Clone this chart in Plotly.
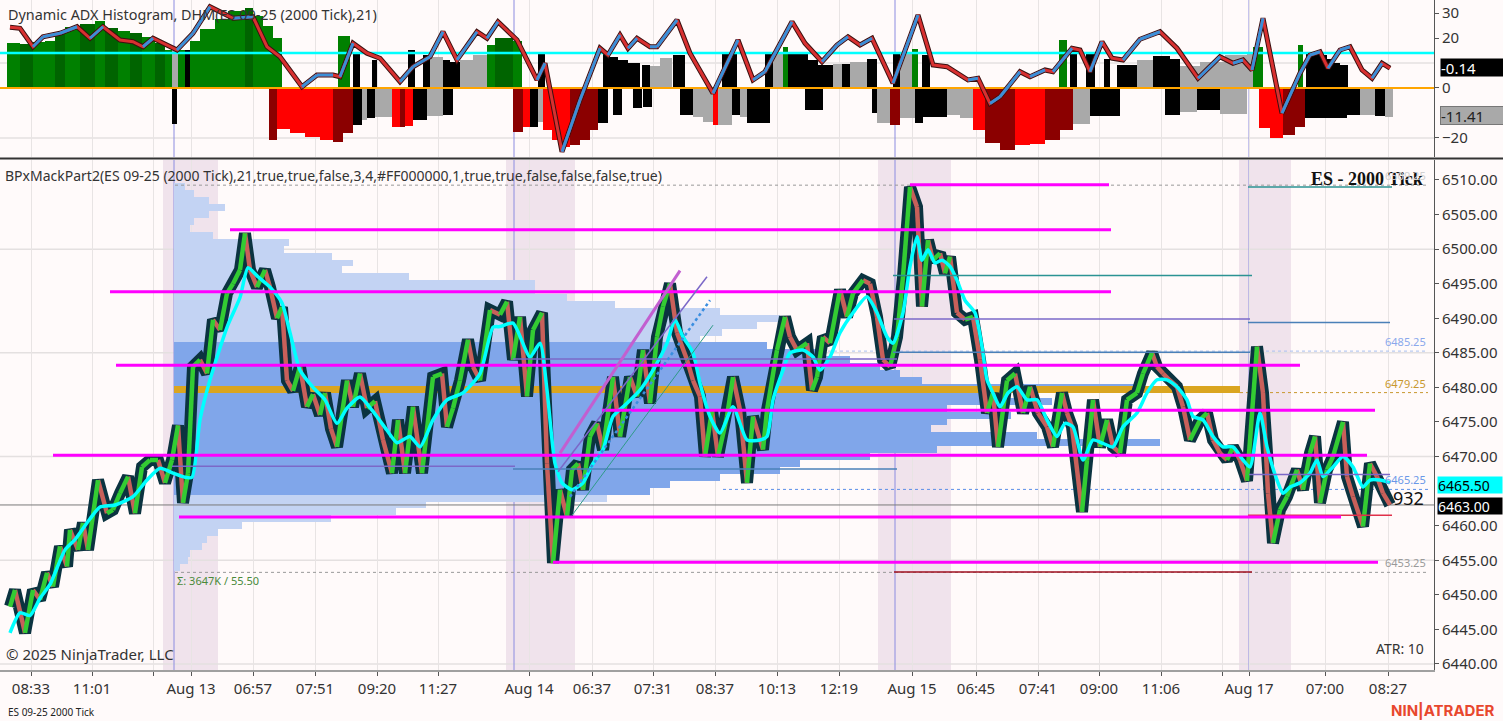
import plotly.graph_objects as go

# ---------------- price pane (x = bar index on the tick chart) ----------------
price_x = [10, 15, 25, 33, 40, 47, 53, 60, 67, 70, 78, 83, 88, 98, 107, 113, 120, 128, 135, 142,
           150, 158, 165, 172, 178, 183, 188, 193, 200, 207, 213, 220, 227, 233, 240, 245, 250, 257,
           265, 270, 277, 282, 287, 293, 300, 307, 313, 320, 325, 331, 337, 347, 353, 360, 367, 375,
           383, 392, 398, 405, 413, 422, 433, 442, 447, 453, 460, 468, 473, 480, 490, 500, 507, 513,
           520, 527, 533, 542, 547, 553, 560, 567, 572, 578, 583, 590, 597, 603, 613, 620, 630, 637,
           643, 650, 657, 663, 670, 677, 687, 693, 700, 705, 712, 718, 727, 733, 740, 747, 753, 763,
           767, 777, 785, 790, 797, 807, 812, 817, 823, 830, 840, 847, 853, 863, 870, 877, 883, 890,
           897, 903, 910, 917, 922, 928, 933, 940, 945, 950, 957, 965, 973, 980, 987, 993, 998, 1007,
           1015, 1023, 1030, 1038, 1047, 1053, 1062, 1067, 1072, 1082, 1087, 1093, 1100, 1107, 1113,
           1120, 1127, 1137, 1143, 1152, 1157, 1163, 1170, 1177, 1183, 1190, 1200, 1207, 1213, 1220,
           1227, 1233, 1240, 1247, 1257, 1263, 1268, 1273, 1280, 1287, 1297, 1303, 1310, 1315, 1320,
           1327, 1333, 1343, 1347, 1353, 1363, 1370, 1377, 1383, 1390]
price_close = [6448.3, 6450.7, 6444.5, 6450.7, 6449.3, 6453.2, 6451.2, 6457.0, 6454.1, 6459.4, 6456.5,
               6460.4, 6456.5, 6466.6, 6461.8, 6462.3, 6464.7, 6467.1, 6461.8, 6468.5, 6469.5, 6469.5,
               6466.2, 6469.5, 6474.5, 6463.3, 6467.6, 6483.0, 6484.0, 6482.0, 6489.8, 6488.3, 6493.6,
               6495.0, 6497.0, 6502.3, 6497.0, 6494.5, 6497.0, 6494.5, 6490.0, 6491.6, 6481.0, 6479.5,
               6483.0, 6477.2, 6479.0, 6476.0, 6479.2, 6474.0, 6471.4, 6481.0, 6477.2, 6482.0, 6477.0,
               6478.0, 6472.4, 6467.6, 6475.3, 6467.6, 6477.2, 6467.6, 6481.5, 6482.0, 6474.3, 6477.0,
               6481.0, 6486.9, 6483.0, 6481.0, 6491.2, 6490.5, 6492.4, 6484.0, 6490.2, 6478.7, 6488.3,
               6490.8, 6469.0, 6454.6, 6465.2, 6461.3, 6468.1, 6469.0, 6465.2, 6472.9, 6474.8, 6471.0,
               6481.5, 6472.9, 6481.5, 6478.7, 6485.4, 6477.7, 6487.3, 6491.7, 6495.0, 6487.9, 6484.0,
               6481.0, 6478.7, 6470.0, 6476.7, 6470.0, 6475.8, 6481.5, 6476.7, 6466.2, 6475.8, 6471.0,
               6476.7, 6485.4, 6490.2, 6487.3, 6485.4, 6486.4, 6479.6, 6481.5, 6487.3, 6486.4, 6494.1,
               6490.2, 6493.6, 6495.5, 6495.0, 6490.2, 6484.0, 6483.0, 6487.3, 6496.0, 6509.0, 6506.1,
               6491.7, 6501.3, 6498.4, 6499.4, 6496.5, 6498.9, 6490.8, 6489.8, 6490.2, 6484.0, 6476.3,
               6479.2, 6471.4, 6481.0, 6482.0, 6476.3, 6480.1, 6476.3, 6474.3, 6471.4, 6479.2, 6476.3,
               6474.3, 6462.0, 6469.5, 6478.2, 6471.4, 6475.3, 6471.4, 6470.5, 6478.2, 6479.2, 6482.0,
               6485.0, 6483.0, 6482.0, 6481.0, 6480.1, 6477.2, 6472.4, 6475.3, 6476.3, 6472.4, 6470.5,
               6469.5, 6471.4, 6469.5, 6466.5, 6485.9, 6479.2, 6464.7, 6457.5, 6462.3, 6464.2, 6468.1,
               6465.2, 6470.5, 6472.9, 6463.3, 6468.1, 6470.0, 6475.0, 6467.1, 6464.2, 6459.9, 6469.0,
               6467.1, 6464.7, 6463.0]

ma_x = [10, 20, 30, 40, 50, 65, 75, 90, 100, 115, 133, 147, 160, 173, 185, 192, 200, 210, 227, 240,
        248, 258, 270, 282, 290, 300, 313, 325, 337, 347, 360, 372, 387, 397, 410, 420, 433, 447, 463,
        480, 493, 500, 513, 530, 540, 547, 555, 562, 572, 583, 593, 603, 613, 627, 640, 653, 667, 675,
        683, 693, 700, 710, 720, 733, 747, 760, 767, 773, 783, 790, 803, 813, 820, 830, 840, 853, 867,
        877, 887, 893, 903, 910, 917, 922, 928, 935, 942, 950, 957, 965, 975, 982, 987, 993, 1000,
        1008, 1017, 1027, 1037, 1047, 1057, 1065, 1073, 1083, 1093, 1103, 1113, 1123, 1137, 1147,
        1157, 1167, 1177, 1187, 1193, 1203, 1213, 1223, 1233, 1243, 1250, 1260, 1267, 1277, 1283,
        1290, 1300, 1310, 1317, 1323, 1333, 1343, 1353, 1363, 1370, 1380, 1390]
ma_val = [6444.5, 6447.4, 6447.0, 6449.5, 6451.5, 6456.5, 6458.0, 6461.0, 6462.7, 6463.0, 6464.2,
          6466.6, 6468.3, 6467.6, 6467.0, 6467.0, 6475.3, 6481.1, 6488.7, 6493.0, 6497.3, 6496.0,
          6494.5, 6492.2, 6487.9, 6482.5, 6480.0, 6478.2, 6474.8, 6477.0, 6478.6, 6476.7, 6473.8,
          6472.0, 6472.9, 6471.4, 6475.3, 6478.2, 6479.2, 6482.0, 6488.7, 6488.8, 6489.3, 6484.4,
          6486.4, 6479.6, 6469.0, 6466.2, 6465.2, 6466.2, 6469.0, 6471.0, 6475.8, 6477.7, 6479.6,
          6482.5, 6486.4, 6489.8, 6487.3, 6485.0, 6480.6, 6475.8, 6473.4, 6477.2, 6472.4, 6472.4,
          6472.9, 6478.2, 6482.5, 6485.0, 6485.4, 6484.4, 6482.5, 6484.4, 6487.9, 6490.8, 6493.1,
          6490.8, 6487.3, 6486.4, 6490.8, 6497.5, 6501.8, 6498.4, 6499.9, 6498.0, 6498.4, 6497.5,
          6495.5, 6492.6, 6490.8, 6485.9, 6481.1, 6479.2, 6477.2, 6479.2, 6480.1, 6478.2, 6478.2,
          6475.3, 6472.9, 6474.8, 6474.3, 6469.5, 6472.4, 6471.9, 6471.4, 6474.3, 6476.3, 6479.2,
          6481.1, 6481.1, 6480.1, 6478.2, 6475.8, 6475.3, 6472.9, 6471.4, 6471.4, 6469.5, 6468.5,
          6476.3, 6471.4, 6466.6, 6464.7, 6465.6, 6466.2, 6467.6, 6469.5, 6467.1, 6468.5, 6470.0,
          6468.5, 6465.6, 6466.6, 6466.6, 6466.2]

# volume profile of the Aug 13 - Aug 17 range
profile_start = 174
profile_price = list(range(6454, 6510))
profile_right = [180, 188, 190, 202, 207, 218, 242, 331, 396, 426, 607, 650, 670, 720, 780, 800, 870,
                 937, 1160, 1037, 931, 947, 1011, 947, 1052, 1000, 1138, 922, 900, 880, 850, 820, 767,
                 700, 722, 757, 780, 720, 615, 567, 535, 535, 409, 342, 353, 332, 284, 289, 213, 190,
                 194, 209, 225, 209, 194, 185]
value_area = (6465, 6486)
poc_price = 6479.75
poc_right = 1240

# drawn levels
mag_price = [6509.3, 6502.8, 6493.85, 6483.2, 6476.7, 6470.2, 6461.25, 6454.7]
mag_x0 = [910, 230, 110, 116, 602, 53, 179, 553]
mag_x1 = [1109, 1111, 1111, 1300, 1375, 1367, 1341, 1378]

thin_price = [6496.2, 6509.0, 6489.9, 6489.4, 6485.1, 6484.1, 6468.6, 6468.2, 6467.4, 6461.5, 6453.3]
thin_x0 = [893, 1248, 894, 1248, 893, 513, 172, 513, 1249, 1248, 894]
thin_x1 = [1252, 1392, 1250, 1390, 1250, 897, 515, 897, 1390, 1392, 1252]
thin_kind = ['teal', 'teal', 'purple', 'steel', 'steel', 'purple', 'purple', 'steel', 'purple',
             'crimson', 'darkred']

ref_price = [6509.25, 6485.25, 6479.25, 6465.25, 6453.25]
ref_x0 = [175, 810, 1240, 723, 175]
ref_kind = ['gray', 'vah', 'poc', 'val', 'gray']
last_price = 6463.00
last_ma = 6465.50

trend_x0 = [560, 558, 570, 572]
trend_y0 = [6470.5, 6467.8, 6464.2, 6461.5]
trend_x1 = [680, 707, 710, 713]
trend_y1 = [6496.9, 6496.0, 6492.6, 6489.0]

sess_x0 = [163, 506, 878, 1239]
sess_x1 = [218, 575, 951, 1291]
sess_line = [174, 514, 895, 1249]

tick_pos = [31, 92, 153, 191, 253, 315, 377, 438, 529, 592, 653, 715, 777, 839, 912, 976, 1038, 1099,
            1161, 1222, 1249, 1325, 1388]
tick_text = ['08:33', '11:01', '', 'Aug 13', '06:57', '07:51', '09:20', '11:27', 'Aug 14', '06:37',
             '07:31', '08:37', '10:13', '12:19', 'Aug 15', '06:45', '07:41', '09:00', '11:06', '',
             'Aug 17', '07:00', '08:27']
# price labels on the right scale (6465.00 sits under the last-price tags)
price_ticks = [6440, 6445, 6450, 6455, 6460, 6470, 6475, 6480, 6485, 6490, 6495, 6500, 6505, 6510]

# ---------------- ADX histogram pane ----------------
adx_x = [10, 20, 33, 43, 60, 77, 90, 103, 120, 133, 143, 153, 177, 193, 210, 233, 253, 267, 280, 302,
         317, 333, 340, 353, 367, 380, 400, 413, 430, 443, 457, 477, 487, 498, 517, 537, 545, 562, 580,
         600, 608, 620, 628, 637, 650, 657, 677, 690, 713, 738, 753, 765, 792, 805, 822, 837, 848, 860,
         872, 893, 918, 933, 947, 968, 978, 990, 1000, 1020, 1030, 1045, 1053, 1072, 1080, 1090, 1102,
         1112, 1123, 1140, 1160, 1177, 1198, 1220, 1233, 1243, 1252, 1263, 1282, 1300, 1310, 1320,
         1328, 1340, 1350, 1362, 1372, 1382, 1390]
adx_val = [24.3, 23.9, 16.5, 20.5, 21.9, 24.5, 19.9, 24.5, 19.2, 18.5, 16.5, 19.9, 15.2, 21.9, 32.5,
           27.9, 28.5, 16.5, 12.5, 0.5, 5.2, 5.2, 4.5, 17.9, 13.9, 11.9, 2.5, 8.5, 12.5, 22.5, 11.2,
           22.5, 19.9, 26.5, 19.2, 3.2, 9.9, -25.5, -4.8, 15.9, 13.2, 21.2, 15.9, 19.9, 16.5, 16.5,
           27.2, 13.9, -2.1, 19.2, 3.2, 6.5, 26.5, 17.9, 10.5, 17.2, 20.5, 17.2, 19.9, 1.9, 29.2, 9.2,
           8.5, 3.2, 3.9, -6.2, -3.5, 6.5, 4.5, 7.2, 6.5, 15.9, 15.2, 6.5, 18.5, 11.9, 11.2, 19.5,
           22.5, 15.9, 3.9, 12.5, 9.9, 11.2, 7.2, 27.9, -10.1, 5.9, 13.2, 14.5, 7.9, 15.2, 16.5, 7.2,
           3.9, 9.9, 7.9]
adx_threshold = 14

pos_start = [7, 20, 33, 45, 55, 65, 80, 95, 105, 118, 130, 142, 155, 165, 172, 178, 185, 190, 200,
             215, 228, 245, 253, 263, 273, 338, 353, 372, 408, 423, 430, 443, 450, 460, 473, 487, 495,
             513, 538, 603, 610, 618, 628, 642, 650, 660, 673, 722, 728, 765, 773, 783, 788, 808, 818,
             833, 842, 850, 867, 893, 900, 912, 922, 1059, 1070, 1086, 1104, 1117, 1137, 1153, 1170,
             1180, 1200, 1225, 1247, 1253, 1298, 1306, 1315, 1327, 1333, 1340]
pos_end = [20, 33, 45, 55, 65, 80, 95, 105, 118, 130, 142, 155, 165, 172, 178, 185, 190, 200, 215,
           228, 245, 253, 263, 273, 282, 350, 360, 377, 415, 430, 443, 450, 460, 473, 487, 495, 513,
           522, 545, 610, 618, 628, 640, 650, 660, 672, 685, 728, 737, 773, 783, 788, 808, 818, 833,
           842, 850, 867, 877, 900, 912, 918, 930, 1067, 1077, 1095, 1110, 1137, 1153, 1170, 1180,
           1200, 1225, 1247, 1253, 1263, 1303, 1315, 1327, 1333, 1340, 1348]
pos_val = [18, 17.5, 18.5, 19, 22, 24.4, 25.5, 27, 24, 23, 22, 20.5, 18, 15, 15, 15, 15, 19, 23.5,
           27.5, 31, 32, 29, 25, 20, 21, 14, 11, 15, 13, 12.4, 11, 10.4, 11.2, 13.2, 17, 20, 19, 13.6,
           14, 12.4, 11, 10, 9, 8.6, 12, 13, 14.4, 14, 13.6, 14, 16.3, 14, 11, 9, 9.6, 9.6, 10.4, 11.5,
           14.4, 14, 15.6, 13, 19.2, 13.6, 13.6, 11.6, 9.2, 11.2, 12.8, 11.5, 8.6, 10.4, 13, 14, 16.3,
           17.2, 14.4, 13, 11.5, 10, 9.2]
pos_state = ['G', 'DG', 'G', 'G', 'DG', 'G', 'DG', 'G', 'DG', 'G', 'DG', 'G', 'DG', 'G', 'S', 'G', 'K',
             'G', 'G', 'G', 'G', 'DG', 'G', 'G', 'G', 'G', 'K', 'K', 'K', 'K', 'S', 'K', 'K', 'S', 'S',
             'G', 'DG', 'G', 'K', 'K', 'K', 'K', 'K', 'K', 'S', 'S', 'K', 'K', 'K', 'K', 'S', 'G', 'K',
             'K', 'K', 'S', 'K', 'S', 'K', 'K', 'S', 'G', 'K', 'G', 'K', 'K', 'K', 'K', 'S', 'K', 'K',
             'S', 'S', 'S', 'S', 'G', 'G', 'K', 'K', 'K', 'K', 'K']

neg_start = [172, 269, 277, 290, 305, 320, 333, 343, 353, 362, 367, 375, 392, 400, 405, 413, 427, 443,
             513, 523, 530, 538, 543, 552, 562, 570, 580, 590, 598, 613, 633, 643, 680, 693, 703, 713,
             718, 732, 740, 747, 805, 872, 877, 890, 900, 915, 923, 947, 960, 973, 985, 1000, 1015,
             1030, 1045, 1060, 1073, 1090, 1165, 1180, 1197, 1220, 1259, 1270, 1283, 1295, 1305, 1347,
             1360, 1375, 1385]
neg_end = [177, 277, 290, 305, 320, 333, 343, 353, 362, 367, 375, 392, 400, 405, 413, 427, 443, 453,
           523, 530, 538, 543, 552, 562, 570, 580, 590, 598, 608, 622, 642, 652, 693, 703, 713, 718,
           732, 740, 747, 770, 823, 877, 890, 900, 915, 923, 947, 960, 973, 985, 1000, 1015, 1030,
           1045, 1060, 1073, 1090, 1120, 1180, 1197, 1220, 1247, 1270, 1283, 1295, 1305, 1347, 1360,
           1375, 1385, 1393]
neg_val = [-14.4, -20.8, -16.5, -18, -19.6, -21, -21.6, -18, -14.8, -13, -12, -11.5, -15.6, -15.6,
           -15.2, -12.8, -11.2, -10.8, -17.6, -15.6, -15.6, -13.6, -17, -21, -23.6, -23, -21, -17, -14,
           -10.8, -8, -7.6, -10.8, -11.5, -13.5, -14.8, -14.8, -11, -11.5, -14, -8.8, -10, -14, -14.8,
           -12, -14, -11.6, -11, -12, -17, -22, -24.8, -23, -22.4, -21, -17, -14.6, -11.4, -10.8,
           -9.6, -8.8, -10.4, -16, -20, -19, -15.6, -12, -11, -11, -11.2, -11.41]
neg_state = ['K', 'DR', 'R', 'R', 'R', 'R', 'DR', 'DR', 'K', 'S', 'K', 'S', 'R', 'DR', 'R', 'K', 'S',
             'K', 'DR', 'R', 'K', 'S', 'R', 'R', 'R', 'DR', 'DR', 'DR', 'K', 'K', 'K', 'K', 'K', 'S',
             'S', 'R', 'S', 'K', 'S', 'K', 'K', 'K', 'S', 'DR', 'S', 'K', 'K', 'S', 'S', 'R', 'DR',
             'DR', 'R', 'R', 'DR', 'DR', 'S', 'K', 'K', 'S', 'K', 'S', 'R', 'R', 'DR', 'DR', 'K', 'K',
             'S', 'K', 'S']

state_colors = {'G': '#008000', 'DG': '#006400', 'R': '#ff0000', 'DR': '#8b0000',
                'K': '#000000', 'S': '#a9a9a9'}
thin_colors = {'teal': '#2b9393', 'purple': '#7b68c8', 'steel': '#4a80b8',
               'crimson': '#e0304a', 'darkred': '#a01020'}
ref_colors = {'gray': '#9a9a9a', 'vah': '#a8c0f0', 'poc': '#c8982e', 'val': '#5b8fe8'}

FONT = 'Noto Sans'
BG = '#fffafa'
X_END = 1434


def split_up_down(xs, ys):
    up_x, up_y, dn_x, dn_y = [], [], [], []
    for i in range(len(xs) - 1):
        if ys[i + 1] >= ys[i]:
            up_x += [xs[i], xs[i + 1], None]
            up_y += [ys[i], ys[i + 1], None]
        else:
            dn_x += [xs[i], xs[i + 1], None]
            dn_y += [ys[i], ys[i + 1], None]
    return up_x, up_y, dn_x, dn_y


def hlines(prices, x0s, x1s):
    xs, ys = [], []
    for p, a, b in zip(prices, x0s, x1s):
        xs += [a, b, None]
        ys += [p, p, None]
    return xs, ys


fig = go.Figure()

# --- top pane: histogram ---
fig.add_trace(go.Bar(
    x=[(a + b) / 2 for a, b in zip(pos_start, pos_end)], width=[b - a for a, b in zip(pos_start, pos_end)],
    y=pos_val, marker=dict(color=[state_colors[s] for s in pos_state], line=dict(width=0)),
    yaxis='y', hoverinfo='skip'))
fig.add_trace(go.Bar(
    x=[(a + b) / 2 for a, b in zip(neg_start, neg_end)], width=[b - a for a, b in zip(neg_start, neg_end)],
    y=neg_val, marker=dict(color=[state_colors[s] for s in neg_state], line=dict(width=0)),
    yaxis='y', hoverinfo='skip'))
fig.add_trace(go.Scatter(x=[0, X_END], y=[adx_threshold] * 2, mode='lines', yaxis='y',
                         line=dict(color='#00ffff', width=2.5), hoverinfo='skip'))
fig.add_trace(go.Scatter(x=[0, X_END], y=[0, 0], mode='lines', yaxis='y',
                         line=dict(color='#ffa500', width=2), hoverinfo='skip'))
fig.add_trace(go.Scatter(x=adx_x, y=adx_val, mode='lines', yaxis='y',
                         line=dict(color='#3a1010', width=5), hoverinfo='skip'))
fig.add_trace(go.Scatter(x=adx_x, y=adx_val, mode='lines', yaxis='y',
                         line=dict(color='#d83030', width=3), hoverinfo='skip'))
ux, uy, dx, dy = split_up_down(adx_x, adx_val)
fig.add_trace(go.Scatter(x=ux, y=uy, mode='lines', yaxis='y',
                         line=dict(color='#3a8fd8', width=3), hoverinfo='skip'))

# --- bottom pane: volume profile ---
prof_colors = ['#80a6ea' if value_area[0] <= p <= value_area[1] else '#c3d3f3' for p in profile_price]
fig.add_trace(go.Bar(orientation='h', y=profile_price, x=[r - profile_start for r in profile_right],
                     base=profile_start, width=1.0, yaxis='y2',
                     marker=dict(color=prof_colors, line=dict(width=0)), hoverinfo='skip'))
fig.add_trace(go.Bar(orientation='h', y=[poc_price], x=[poc_right - profile_start], base=profile_start,
                     width=1.0, yaxis='y2', marker=dict(color='#daa520', line=dict(width=0)),
                     hoverinfo='skip'))

# reference dotted lines
for p, a, k in zip(ref_price, ref_x0, ref_kind):
    fig.add_trace(go.Scatter(x=[a, 1428], y=[p, p], mode='lines', yaxis='y2', hoverinfo='skip',
                             line=dict(color=ref_colors[k], width=1, dash='dot')))
fig.add_trace(go.Scatter(x=[0, X_END], y=[last_price] * 2, mode='lines', yaxis='y2', hoverinfo='skip',
                         line=dict(color='#7a7a7a', width=1)))

# price path: dark bodies, then up/down colouring
fig.add_trace(go.Scatter(x=price_x, y=price_close, mode='lines', yaxis='y2', hoverinfo='skip',
                         line=dict(color='#0b3340', width=12)))
ux, uy, dx, dy = split_up_down(price_x, price_close)
fig.add_trace(go.Scatter(x=dx, y=dy, mode='lines', yaxis='y2', hoverinfo='skip',
                         line=dict(color='#c8605a', width=4.5)))
fig.add_trace(go.Scatter(x=ux, y=uy, mode='lines', yaxis='y2', hoverinfo='skip',
                         line=dict(color='#33cc33', width=4.5)))
fig.add_trace(go.Scatter(x=ma_x, y=ma_val, mode='lines', yaxis='y2', hoverinfo='skip',
                         line=dict(color='#00ffff', width=3.5, shape='spline', smoothing=0.6)))

# thin levels
for p, a, b, k in zip(thin_price, thin_x0, thin_x1, thin_kind):
    fig.add_trace(go.Scatter(x=[a, b], y=[p, p], mode='lines', yaxis='y2', hoverinfo='skip',
                             line=dict(color=thin_colors[k], width=1.5)))

# magenta levels
mx, my = hlines(mag_price, mag_x0, mag_x1)
fig.add_trace(go.Scatter(x=mx, y=my, mode='lines', yaxis='y2', hoverinfo='skip',
                         line=dict(color='#ff00ff', width=3)))

# channel drawing
trend_styles = [dict(color='#c25fd0', width=3), dict(color='#7b68c8', width=1.5),
                dict(color='#3a8ee0', width=2.5, dash='dot'), dict(color='#2f9a88', width=1)]
for a, b, c, d, st in zip(trend_x0, trend_y0, trend_x1, trend_y1, trend_styles):
    fig.add_trace(go.Scatter(x=[a, c], y=[b, d], mode='lines', yaxis='y2', hoverinfo='skip', line=st))

# ---------------- shapes ----------------
shapes = []
for a, b in zip(sess_x0, sess_x1):
    shapes.append(dict(type='rect', xref='x', yref='y2', x0=a, x1=b, y0=6439.13, y1=6512.89,
                       fillcolor='rgba(205,175,205,0.30)', line=dict(width=0), layer='below'))
for g in [6440, 6455, 6470, 6485, 6500]:
    shapes.append(dict(type='line', xref='x', yref='y2', x0=0, x1=X_END, y0=g, y1=g,
                       line=dict(color='#e4e0e0', width=1.5), layer='below'))
for g in [10, -20]:
    shapes.append(dict(type='line', xref='x', yref='y', x0=0, x1=X_END, y0=g, y1=g,
                       line=dict(color='#e4e0e0', width=1.5), layer='below'))
for s in sess_line:
    shapes.append(dict(type='line', xref='x', yref='y', x0=s, x1=s, y0=-27.6, y1=35.2,
                       line=dict(color='#8c8ce0', width=1), layer='below'))
    shapes.append(dict(type='line', xref='x', yref='y2', x0=s, x1=s, y0=6439.13, y1=6512.89,
                       line=dict(color='#8c8ce0', width=1), layer='below'))
shapes.append(dict(type='line', xref='paper', yref='paper', x0=0, x1=1.05, y0=0.7635, y1=0.7635,
                   line=dict(color='#333333', width=2)))

# ---------------- annotations ----------------
ann = []


def note(text, x, y, xref='paper', yref='paper', size=13, color='#333333', xanchor='left',
         yanchor='middle', family=FONT, **kw):
    ann.append(dict(text=text, x=x, y=y, xref=xref, yref=yref, showarrow=False, xanchor=xanchor,
                    yanchor=yanchor, font=dict(family=family, size=size, color=color), **kw))


note('Dynamic ADX Histogram, DHM(ES 09-25 (2000 Tick),21)', 6 / X_END, 0.978, size=14.4)
note('BPxMackPart2(ES 09-25 (2000 Tick),21,true,true,false,3,4,#FF000000,1,true,true,false,false,false,true)',
     3 / X_END, 0.738, size=14)
note('<b>ES - 2000 Tick</b>', 1425, 6510.2, xref='x', yref='y2', size=18, color='#111111',
     xanchor='right', family='Liberation Serif')
note('6509.25', 1428, 6509.25, xref='x', yref='y2', size=11, color='#d0d0d0', xanchor='right',
     yanchor='bottom')
note('6485.25', 1428, 6485.25, xref='x', yref='y2', size=11, color='#8aa8ec', xanchor='right',
     yanchor='bottom')
note('6479.25', 1428, 6479.25, xref='x', yref='y2', size=11, color='#c8982e', xanchor='right',
     yanchor='bottom')
note('6465.25', 1428, 6465.25, xref='x', yref='y2', size=11, color='#6a98e8', xanchor='right',
     yanchor='bottom')
note('6453.25', 1428, 6453.25, xref='x', yref='y2', size=11, color='#9a9a9a', xanchor='right',
     yanchor='bottom')
note('Σ: 3647K / 55.50', 175, 6452.1, xref='x', yref='y2', size=11, color='#4a8a3a')
note('932', 1391, 6464.0, xref='x', yref='y2', size=18, color='#111111')
note('ATR: 10', 1426, 6442.2, xref='x', yref='y2', size=14, color='#333333', xanchor='right')
note('© 2025 NinjaTrader, LLC', 4, 6441.4, xref='x', yref='y2', size=15, color='#333333')
note('ES 09-25 2000 Tick', 6 / X_END, -0.063, size=10, color='#222222')
note('<b>NIN|ATRADER</b>', 1.0065, -0.06, size=15, color='#e8472d', xanchor='center', family='Inter')

# axis tags
note('-0.14', 1, 8, yref='y', size=15, color='#ffffff', xshift=6, bgcolor='#000000', width=62,
     height=17, align='left', borderpad=0)
note('-11.41', 1, -11.2, yref='y', size=15, color='#222222', xshift=6, bgcolor='#a9a9a9',
     bordercolor='#777777', width=62, height=17, align='left', borderpad=0)
note('6465.50', 1, last_ma, yref='y2', size=14, color='#000000', xshift=3, yshift=3,
     bgcolor='#00ffff', width=64, height=16, align='left', borderpad=0)
note('6463.00', 1, last_price, yref='y2', size=14, color='#ffffff', xshift=3, yshift=-1,
     bgcolor='#000000', width=64, height=16, align='left', borderpad=0)

axis_font = dict(family=FONT, size=15, color='#333333')
fig.update_layout(
    width=1503, height=721,
    margin=dict(l=0, r=69, t=0, b=51),
    paper_bgcolor=BG, plot_bgcolor=BG,
    showlegend=False, barmode='overlay', bargap=0,
    shapes=shapes, annotations=ann,
    xaxis=dict(range=[0, X_END], tickvals=tick_pos, ticktext=tick_text, showgrid=True,
               gridcolor='#e8e4e4', gridwidth=1, ticks='outside', ticklen=4, tickcolor='#555555',
               showline=True, linecolor='#a0a0a0', linewidth=2, zeroline=False, anchor='y2',
               tickfont=axis_font, fixedrange=True),
    yaxis=dict(domain=[0.7657, 1], range=[-27.6, 35.2], side='right', anchor='x',
               tickvals=[30, 20, 0, -20], ticks='outside', ticklen=4, tickcolor='#555555',
               showline=True, linecolor='#555555', linewidth=1, showgrid=False, zeroline=False,
               tickfont=axis_font),
    yaxis2=dict(domain=[0, 0.7612], range=[6439.13, 6512.89], side='right', anchor='x',
                tickvals=price_ticks,
                ticktext=['%.2f' % v for v in price_ticks],
                ticks='outside', ticklen=4, tickcolor='#555555', showline=True, linecolor='#555555',
                linewidth=1, showgrid=False, zeroline=False, tickfont=axis_font),
)

fig.write_html('out.html', config={'displayModeBar': False},
               post_script="document.body.style.margin='0px';document.body.style.overflow='hidden';")
